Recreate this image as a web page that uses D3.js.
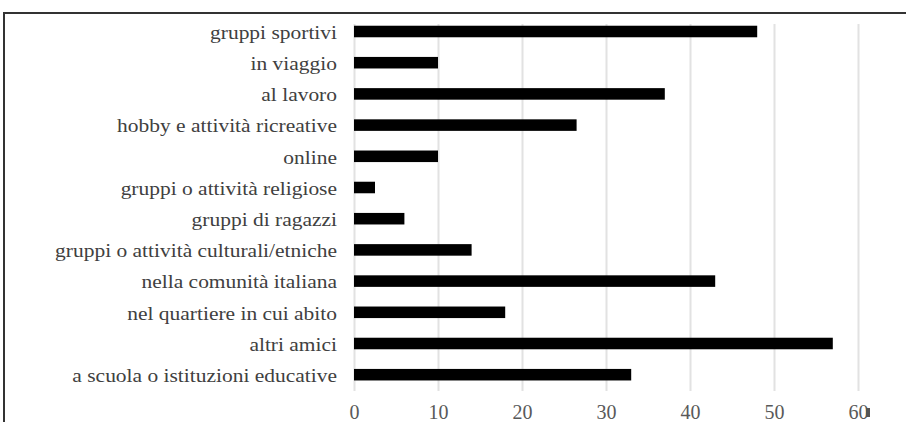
<!DOCTYPE html>
<html>
<head>
<meta charset="utf-8">
<script src="https://cdn.jsdelivr.net/npm/d3@7"></script>
<style>
  html, body { margin: 0; padding: 0; background: #fff; }
  svg { display: block; }
  .ser { font-family: "Liberation Serif", "DejaVu Serif", serif; }
</style>
</head>
<body>
<svg id="chart" width="906" height="422"></svg>
<script>
const categories = [
  "gruppi sportivi",
  "in viaggio",
  "al lavoro",
  "hobby e attività ricreative",
  "online",
  "gruppi o attività religiose",
  "gruppi di ragazzi",
  "gruppi o attività culturali/etniche",
  "nella comunità italiana",
  "nel quartiere in cui abito",
  "altri amici",
  "a scuola o istituzioni educative"
];
const values = [48, 10, 37, 26.5, 10, 2.5, 6, 14, 43, 18, 57, 33];
const xTicks = [0, 10, 20, 30, 40, 50, 60];

const svg = d3.select("#chart");

// frame
svg.append("line").attr("x1", 4).attr("x2", 906).attr("y1", 13).attr("y2", 13)
  .attr("stroke", "#333").attr("stroke-width", 2);
svg.append("line").attr("x1", 4).attr("x2", 4).attr("y1", 12).attr("y2", 422)
  .attr("stroke", "#333").attr("stroke-width", 2);

const x = d3.scaleLinear().domain([0, 60]).range([354, 858]);
const y = d3.scaleBand().domain(categories).range([15.9, 390.3])
  .paddingInner(0.63).paddingOuter(0.315);

// grid + x tick labels via axis
const gx = svg.append("g").attr("transform", "translate(0,391)")
  .call(d3.axisBottom(x).tickValues(xTicks).tickSizeInner(-367).tickSizeOuter(0).tickPadding(0));
gx.attr("font-family", null).attr("font-size", null);
gx.select(".domain").remove();
gx.selectAll(".tick line").attr("stroke", "#e2e2e2").attr("stroke-width", 2);
gx.selectAll(".tick text")
  .attr("class", "ser")
  .attr("y", 28).attr("dy", null)
  .attr("fill", "#595959")
  .attr("font-size", 20);

// bars
svg.append("g").selectAll("rect").data(categories).join("rect")
  .attr("x", x(0))
  .attr("y", d => y(d))
  .attr("width", (d, i) => x(values[i]) - x(0))
  .attr("height", y.bandwidth())
  .attr("fill", "#000");

// category labels via axis (slightly stretched horizontally like the reference)
const sx = 1.13;
const gy = svg.append("g").attr("transform", "translate(354,0)")
  .call(d3.axisLeft(y).tickSize(0).tickPadding(17));
gy.attr("font-family", null).attr("font-size", null);
gy.select(".domain").remove();
gy.selectAll(".tick text")
  .attr("class", "ser")
  .attr("x", -17 / sx)
  .attr("dy", "0.38em")
  .attr("transform", `scale(${sx},1)`)
  .attr("fill", "#404040")
  .attr("font-size", 19);

// small artifact mark next to the "60" label
svg.append("rect").attr("x", 866).attr("y", 408).attr("width", 4).attr("height", 9).attr("fill", "#555");
</script>
</body>
</html>
